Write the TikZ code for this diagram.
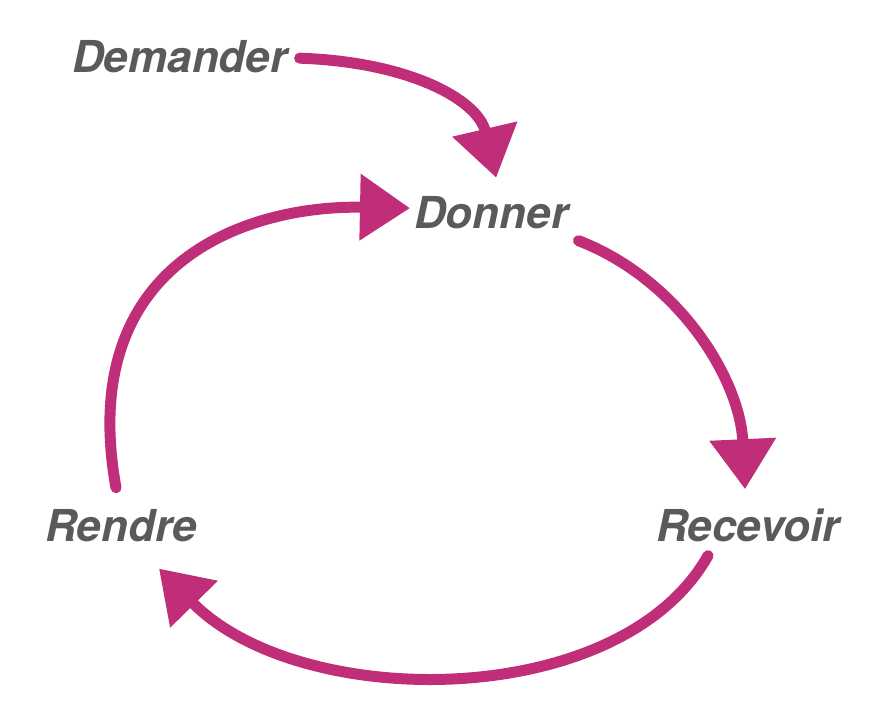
\documentclass[tikz,border=0pt]{standalone}
\usepackage{fontspec}
\setmainfont{TeX Gyre Heros}
\usetikzlibrary{arrows.meta}
\definecolor{txtgray}{RGB}{90,90,90}
\definecolor{chalk}{RGB}{192,46,122}
\tikzset{
  lbl/.style={inner sep=0pt, anchor=base west, text=txtgray,
    font=\fontsize{44}{50}\selectfont\bfseries\itshape},
  flow/.style={draw=chalk, line width=11pt, line cap=round,
    -{Triangle[length=50pt,width=64pt]}}
}
\begin{document}
\begin{tikzpicture}[x=1pt,y=-1pt]
\useasboundingbox (0,0) rectangle (871,707);
\node[lbl] (dem) at (72,72) {Demander};
\node[lbl] (don) at (414,228) {Donner};
\node[lbl] (rec) at (656,541) {Recevoir};
\node[lbl] (ren) at (45,541) {Rendre};
% Demander -> Donner
\draw[flow] ([xshift=12pt,yshift=-2pt]dem.east) .. controls (410,62) and (478,100) .. ([xshift=5pt,yshift=18pt]don.north);
% Rendre -> Donner
\draw[flow] ([xshift=-5pt,yshift=21pt]ren.north) .. controls (75,260) and (250,205) .. ([xshift=-4pt,yshift=4pt]don.west);
% Donner -> Recevoir
\draw[flow] ([xshift=10pt,yshift=-12pt]don.south east) .. controls (680,280) and (740,380) .. ([xshift=-3pt,yshift=19pt]rec.north);
% Recevoir -> Rendre
\draw[flow] ([xshift=-40pt,yshift=-14pt]rec.south) .. controls (620,712) and (300,712) .. ([xshift=-38pt,yshift=-27pt]ren.south east);
\end{tikzpicture}
\end{document}
